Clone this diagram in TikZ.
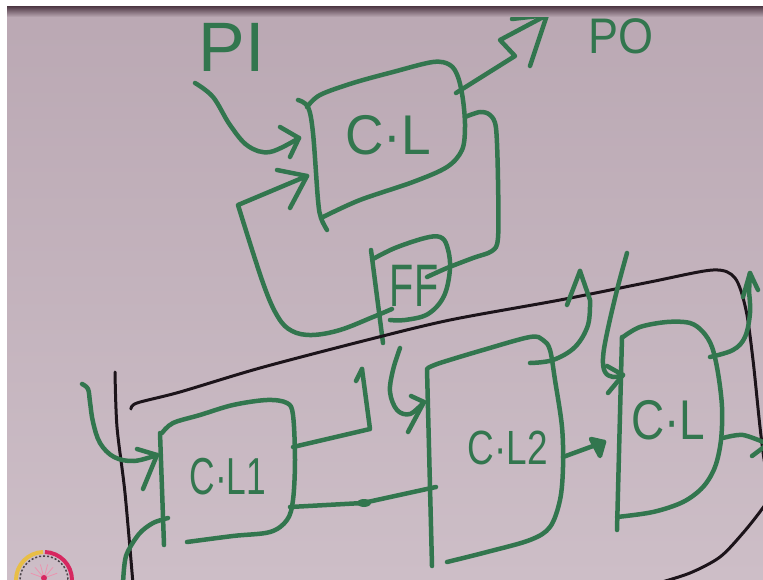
\documentclass[tikz,border=0pt]{standalone}
\usepackage{fontspec}
\setmainfont{Liberation Sans}
\definecolor{boardtop}{RGB}{186,168,179}
\definecolor{boardbot}{RGB}{205,190,199}
\definecolor{marker}{RGB}{50,118,78}
\definecolor{ink}{RGB}{28,20,26}
\definecolor{bardark}{RGB}{86,64,76}
\definecolor{ringyellow}{RGB}{232,190,70}
\definecolor{ringred}{RGB}{214,40,96}
\begin{document}
\begin{tikzpicture}[x=1pt,y=-1pt,
  pen/.style={draw=marker,line width=4.5pt,line cap=round,line join=round},
  blackpen/.style={draw=ink,line width=3pt,line cap=round,line join=round},
  lbl/.style={text=marker,inner sep=0pt,anchor=center}]
\useasboundingbox (0,0) rectangle (763,580);
\clip (0,0) rectangle (763,580);
% whiteboard
\shade[top color=boardtop,bottom color=boardbot] (0,0) rectangle (763,580);

% ---------- sequential circuit: logic block with flip-flop feedback ----------
\coordinate (piS) at (195,83);
\coordinate (clAin1) at (299,138);
\coordinate (clAin2) at (307,176);
\coordinate (fbCorner) at (238,205);
\coordinate (clAout1) at (456,93);
\coordinate (clAout2) at (465,117);
\coordinate (poTip) at (547,15);
\coordinate (ffIn) at (427,277);
\coordinate (ffOut) at (392,309);

% combinational block
\draw[pen] plot[smooth,tension=0.55] coordinates {(298,100) (308,107) (313,133) (318,200) (321,218) (327,230)};
\draw[pen] plot[smooth,tension=0.55] coordinates {(307,107) (320,95) (353,83) (393,72) (433,62) (450,65) (458,77) (463,100) (465,127) (462,150) (447,167) (413,182) (360,200) (323,217)};
\node[lbl] (clA) at (388,135) {\fontsize{56}{56}\selectfont\scalebox{0.95}[1]{C·L}};

% primary inputs
\node[lbl] (pi) at (232,47) {\fontsize{70}{70}\selectfont PI};
\draw[pen] plot[smooth,tension=0.6] coordinates {(piS) (213,97) (230,125) (248,146) (270,152) (clAin1)};
\draw[pen] (280,127) -- (clAin1) -- (290,157);

% flip-flop
\draw[pen] (371,250) -- (383,343);
\draw[pen] plot[smooth,tension=0.6] coordinates {(373,259) (395,248) (425,238) (440,237) (447,246) (450,268) (444,296) (428,314) (405,320) (390,320)};
\node[lbl] (ff) at (414,286) {\fontsize{60}{60}\selectfont\scalebox{0.66}[1]{FF}};

% state feedback: logic -> FF -> logic
\draw[pen] plot[smooth,tension=0.5] coordinates {(clAout2) (480,112) (490,115) (496,128) (498,180) (498,238) (492,251) (473,258) (447,268) (ffIn)};
\draw[pen] plot[smooth,tension=0.6] coordinates {(ffOut) (373,317) (340,330) (312,335) (292,331) (278,317) (263,283) (fbCorner)} -- (clAin2);
\draw[pen] (277,170) -- (clAin2) -- (290,208);

% primary outputs
\draw[pen] (clAout1) -- (515,56) -- (500,40) -- (poTip);
\draw[pen] (512,19) -- (poTip) -- (530,66);
\node[lbl] (po) at (621,36) {\fontsize{50}{50}\selectfont\scalebox{0.9}[1]{PO}};

% ---------- pipeline of logic blocks ----------
\draw[blackpen] plot[smooth,tension=0.5] coordinates {(131,409) (137,403) (180,392) (260,368) (367,340) (450,320) (560,300) (650,282) (713,270) (735,278) (746,310) (753,360) (760,427) (765,465) (772,492) (762,509) (743,533) (720,557) (690,573) (655,584)};
\draw[blackpen] plot[smooth] coordinates {(115,372) (117,427) (125,493) (133,584)};

\coordinate (inB) at (82,384);
\coordinate (clBin1) at (157,455);
\coordinate (clBout1) at (293,447);
\coordinate (clBout2) at (290,507);
\coordinate (upB) at (362,369);
\coordinate (inC) at (400,348);
\coordinate (clCin1) at (424,402);
\coordinate (clCin2) at (436,487);
\coordinate (clCout1) at (530,363);
\coordinate (clCout2) at (563,457);
\coordinate (upC) at (580,271);
\coordinate (inD) at (627,253);
\coordinate (clDin1) at (623,375);
\coordinate (clDin2) at (604,442);
\coordinate (clDout1) at (710,357);
\coordinate (clDout2) at (723,438);
\coordinate (upD) at (750,273);
\coordinate (outD) at (768,444);

% first block
\draw[pen] (160,433) -- (164,545);
\draw[pen] plot[smooth,tension=0.55] coordinates {(162,433) (173,423) (200,415) (233,405) (267,400) (287,403) (293,415) (295,460) (293,500) (287,520) (270,532) (233,536) (187,542)};
\node[lbl] (clB) at (228,477) {\fontsize{52}{52}\selectfont\scalebox{0.68}[1]{C·L1}};
\draw[pen] plot[smooth,tension=0.6] coordinates {(inB) (88,389) (90,402) (93,422) (100,443) (114,457) (134,461) (clBin1)};
\draw[pen] (137,449) -- (clBin1) -- (143,489);
\draw[pen] plot[smooth] coordinates {(123,584) (126,556) (139,534) (153,523) (168,518)};
\draw[pen] (clBout1) -- (370,429) -- (upB);
\draw[pen] (356,381) -- (upB);
\draw[pen] (clBout2) -- (363,503) -- (clCin2);
\fill[marker] (364,503) ellipse [x radius=7,y radius=4];

% second block
\draw[pen] plot[smooth,tension=0.6] coordinates {(inC) (393,370) (390,392) (397,410) (410,414) (clCin1)};
\draw[pen] (411,396) -- (clCin1) -- (408,432);
\draw[pen] (427,369) -- (432,566);
\draw[pen] plot[smooth,tension=0.55] coordinates {(428,368) (440,363) (483,350) (530,337) (543,340) (550,350) (555,380) (562,427) (563,467) (560,500) (550,527) (530,540) (487,552) (447,562)};
\node[lbl] (clC) at (508,448) {\fontsize{48}{48}\selectfont\scalebox{0.77}[1]{C·L2}};
\draw[pen] plot[smooth,tension=0.6] coordinates {(clCout1) (553,360) (575,347) (588,325) (590,300)} -- (upC);
\draw[pen] (567,305) -- (upC);
\draw[pen] (clCout2) -- (clDin2);
\draw[pen,fill=marker] (591,439) -- (clDin2) -- (600,456) -- cycle;

% third block
\draw[pen] plot[smooth,tension=0.6] coordinates {(inD) (617,290) (607,333) (603,358) (605,372) (613,377) (clDin1)};
\draw[pen] (607,366) -- (clDin1) -- (608,393);
\draw[pen] (622,337) -- (617,530);
\draw[pen] plot[smooth,tension=0.55] coordinates {(623,337) (640,327) (667,322) (690,323) (703,332) (712,347) (718,373) (722,407) (721,440) (715,467) (703,487) (683,502) (653,512) (617,517)};
\node[lbl] (clD) at (668,420) {\fontsize{56}{56}\selectfont\scalebox{0.82}[1]{C·L}};
\draw[pen] plot[smooth,tension=0.6] coordinates {(clDout1) (733,350) (745,337) (750,313) (749,292)} -- (upD);
\draw[pen] (743,297) -- (upD) -- (758,290);
\draw[pen] plot[smooth] coordinates {(clDout2) (743,435) (outD)};
\draw[pen] (752,456) -- (outD);

% ---------- emblem in the corner ----------
\draw[ringyellow,line width=4pt] (44,580) ++(180:28) arc[start angle=180,end angle=268,radius=28];
\draw[ringred,line width=4pt] (44,580) ++(272:28) arc[start angle=272,end angle=360,radius=28];
\draw[ink!80,line width=1.5pt,dash pattern=on 2pt off 2pt] (44,580) circle[radius=24];
\foreach \a in {200,230,255,285,310,340}
  \draw[ringred!50,line width=0.8pt] (44,578) -- ++(\a:14);
\fill[ringred] (44,578) circle[radius=3];

% ---------- frame of the frame grab ----------
\fill[white] (0,0) rectangle (763,7);
\shade[top color=bardark,bottom color=boardtop] (0,7) rectangle (763,17);
\fill[white] (0,0) rectangle (7,580);
\end{tikzpicture}
\end{document}
